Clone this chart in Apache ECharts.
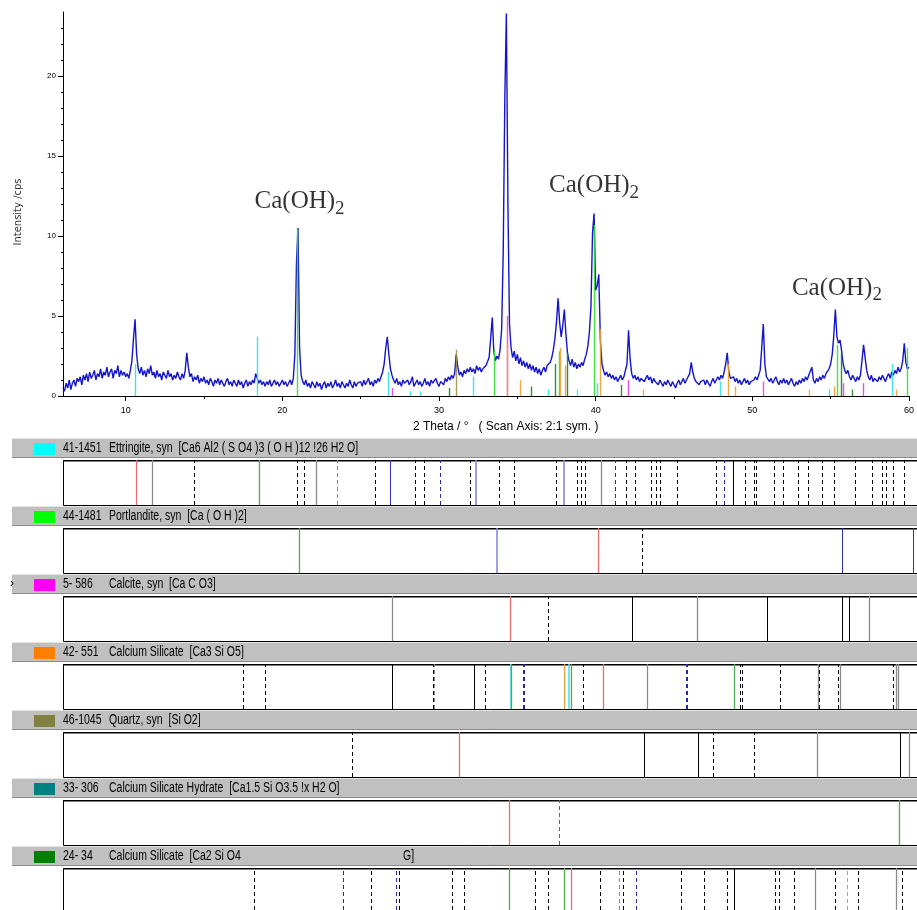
<!DOCTYPE html>
<html><head><meta charset="utf-8">
<script src="https://cdn.jsdelivr.net/npm/echarts@6/dist/echarts.min.js"></script>
<style>html,body{margin:0;padding:0;background:#fff}#c{width:917px;height:910px}</style>
</head><body><div id="c"></div>
<script>
// ---------- DATA ----------
const scanStart = 6.0;
const scanStep = 0.1;
const scanCounts = [
0.5,0.3,0.8,0.5,1.0,0.4,0.8,1.0,0.6,1.1,
0.9,1.2,0.7,1.3,1.0,1.4,0.9,1.5,1.1,1.3,
1.6,1.0,1.4,1.2,1.7,1.1,1.5,1.3,1.8,1.2,
1.5,1.7,1.1,1.6,1.4,1.9,1.2,1.6,1.3,1.5,
1.2,1.4,1.1,1.6,2.2,3.6,4.8,2.6,1.7,1.4,
1.8,1.3,1.6,1.2,1.7,1.4,1.9,1.3,1.5,1.1,
1.6,1.2,1.4,1.0,1.5,1.3,1.1,1.6,1.2,1.4,
1.0,1.3,1.1,1.5,1.2,1.0,1.4,1.1,1.6,2.7,
1.8,1.2,1.4,0.9,1.2,1.0,1.3,0.8,1.1,0.9,
1.2,0.8,1.0,0.7,1.1,0.9,0.6,1.0,0.8,1.1,
0.7,1.0,0.8,0.6,0.9,1.1,0.7,0.9,0.6,1.0,
0.8,0.6,1.0,0.7,0.9,0.5,0.8,1.0,0.6,0.9,
0.7,1.0,0.8,1.4,1.1,0.8,1.0,0.7,0.9,0.6,
0.9,0.7,1.0,0.6,0.8,1.0,0.7,0.9,0.6,0.8,
1.0,0.7,0.9,0.6,0.8,1.0,0.7,1.1,2.6,8.2,
10.5,3.0,1.3,0.9,0.7,1.0,0.6,0.8,0.5,0.9,
0.7,0.5,0.9,0.6,0.8,0.4,0.7,0.9,0.5,0.8,
0.6,0.9,0.5,0.7,1.0,0.6,0.8,0.5,0.9,0.7,
0.5,0.8,0.6,1.0,0.7,0.5,0.9,0.6,0.8,0.7,
0.9,0.6,1.0,0.7,0.8,1.1,0.7,0.9,0.6,1.0,
0.8,1.1,0.9,1.2,1.5,2.0,3.0,3.7,2.6,1.7,
1.3,1.0,0.8,1.1,0.7,0.9,0.6,1.0,0.8,0.7,
1.0,0.7,0.9,1.2,0.6,0.8,1.0,0.7,0.9,0.6,
0.8,1.1,0.7,0.9,0.6,1.0,0.8,0.7,1.1,0.8,
0.6,0.9,1.0,0.7,1.1,0.9,1.2,1.0,1.3,1.1,
1.4,2.6,1.8,1.3,1.5,1.2,1.6,1.4,1.7,1.5,
1.8,1.5,1.7,1.4,1.9,1.6,1.8,1.5,1.7,1.6,
1.9,2.0,2.4,3.6,4.9,2.8,2.2,2.5,2.3,2.9,
4.2,9.0,18.5,23.9,12.0,4.5,3.0,2.4,2.8,2.2,
2.6,2.0,2.4,1.9,2.2,1.8,2.1,1.7,2.0,1.6,
1.9,1.5,1.8,1.4,1.7,1.3,1.6,1.8,1.5,1.9,
1.8,2.1,2.4,2.9,3.6,4.6,6.1,4.6,3.7,4.4,
5.4,3.9,2.7,2.2,1.9,2.3,1.8,2.1,1.7,2.0,
1.8,2.1,1.9,2.3,2.6,3.1,4.0,5.6,10.2,11.4,
6.6,6.9,7.6,3.5,2.0,1.6,1.3,1.5,1.2,1.4,
1.1,1.3,1.0,1.2,0.9,1.1,1.3,1.0,1.2,1.1,
2.0,4.1,2.3,1.4,1.1,1.3,1.0,1.2,0.9,1.1,
1.2,0.9,1.1,1.3,1.0,1.2,0.8,1.1,0.9,1.0,
0.7,1.0,0.8,0.6,0.9,0.7,1.0,0.8,0.6,0.9,
0.7,0.5,0.8,1.0,0.7,0.9,1.1,0.8,1.0,1.2,
1.4,2.1,1.5,1.1,0.9,1.0,0.7,0.9,0.8,1.0,
0.7,1.0,0.8,0.6,0.9,1.1,0.8,1.0,1.2,1.0,
1.3,1.1,1.5,2.0,2.7,1.5,1.1,1.0,1.2,0.9,
1.1,0.8,1.0,0.7,0.9,1.1,0.8,1.0,0.7,0.9,
0.8,1.0,1.2,1.0,1.3,1.6,3.0,4.5,2.0,1.2,
1.3,0.9,1.1,0.8,1.0,1.2,0.9,0.7,1.0,0.8,
1.1,0.8,1.0,0.7,0.9,1.1,0.8,0.6,0.9,0.7,
1.0,0.8,1.1,0.9,1.2,1.0,1.3,1.4,1.8,1.0,
0.8,1.1,0.9,1.2,1.0,1.3,1.1,1.4,1.5,1.7,
2.0,2.6,3.8,5.4,3.7,3.3,3.5,2.8,2.0,1.6,
1.4,1.6,1.2,1.0,1.3,1.1,0.9,1.2,1.0,1.3,
2.2,3.2,2.4,1.6,1.2,1.0,1.3,0.9,1.1,1.2,
0.9,1.2,1.0,1.3,1.1,0.9,1.2,1.4,1.1,1.5,
1.3,1.6,1.4,1.8,1.5,1.7,2.2,3.3,2.1,1.7,
1.8
];

const xTicks = [10, 20, 30, 40, 50, 60];
const xMinorTicks = [15, 25, 35, 45, 55];
const yTicks = [0, 5, 10, 15, 20];
const yMinorTicks = [1,2,3,4,6,7,8,9,11,12,13,14,16,17,18,19,21,22,23];

const annotText = ['Ca(OH)', 'Ca(OH)', 'Ca(OH)'];
const annotX = [21.1, 39.9, 55.4];
const annotY = [12.3, 13.3, 6.9];

// reference-pattern sticks in the main plot: [2theta, height, phase index]
const mainSticks = [
[10.63,2.0,0],[18.43,3.7,0],[20.98,10.4,1],[26.73,1.5,0],[27.0,0.5,2],[28.19,0.3,0],[28.82,0.3,0],
[30.66,0.5,6],[31.10,2.9,4],[32.18,1.2,0],[33.51,2.9,1],[34.33,5.0,2],[34.38,3.3,3],[35.16,1.0,3],
[35.86,0.6,6],[37.0,0.4,0],[37.44,2.0,6],[37.70,2.8,1],[37.76,3.0,3],[38.07,1.9,3],[38.20,2.7,6],
[38.8,0.4,0],[39.91,10.7,1],[40.10,0.8,0],[40.29,4.2,3],[41.62,0.7,6],[42.06,1.0,2],[43.02,0.4,3],
[47.96,0.9,0],[48.47,2.0,3],[48.92,0.6,3],[50.68,0.9,2],[53.66,0.4,3],[54.93,0.4,0],[55.25,0.6,3],
[55.44,3.2,1],[55.69,2.7,6],[55.82,0.8,2],[56.39,0.4,6],[57.08,0.8,2],[58.92,2.0,0],[59.18,0.4,3],
[59.87,3.0,1]
];

const phaseCodes = ['41-1451', '44-1481', '5- 586', '42- 551', '46-1045', '33- 306', '24- 34'];
const phaseNames = [
 'Ettringite, syn  [Ca6 Al2 ( S O4 )3 ( O H )12 !26 H2 O]',
 'Portlandite, syn  [Ca ( O H )2]',
 'Calcite, syn  [Ca C O3]',
 'Calcium Silicate  [Ca3 Si O5]',
 'Quartz, syn  [Si O2]',
 'Calcium Silicate Hydrate  [Ca1.5 Si O3.5 !x H2 O]',
 'Calcium Silicate  [Ca2 Si O4'
];

// stick lines per phase panel: [2theta, line kind]
const phaseLines = [
 [[10.63,'r'],[11.63,'g'],[14.33,'d'],[18.43,'G'],[20.82,'d'],[21.26,'d'],[22.04,'g'],[23.37,'dg'],[25.82,'d'],[26.77,'b'],[28.30,'d'],[28.87,'d'],[29.92,'db'],[31.84,'d'],[32.14,'lb'],[33.62,'d'],[34.63,'d'],[37.25,'d'],[37.76,'lb'],[38.58,'d'],[38.85,'d'],[39.13,'d'],[40.10,'g'],[41.03,'db'],[41.67,'d'],[42.30,'d'],[43.31,'d'],[43.57,'d'],[43.88,'d'],[44.96,'d'],[47.39,'d'],[47.91,'db'],[48.49,'k'],[49.27,'d'],[49.78,'d'],[49.94,'d'],[51.05,'d'],[51.64,'d'],[52.63,'d'],[53.26,'d'],[54.09,'d'],[54.91,'d'],[56.20,'d'],[57.28,'d'],[57.91,'d'],[58.18,'d'],[58.62,'d'],[59.32,'d']],
 [[20.98,'G'],[33.49,'lb'],[39.91,'r'],[42.74,'d'],[55.42,'b'],[59.92,'b']],
 [[26.86,'g'],[34.36,'r'],[36.74,'d'],[42.11,'k'],[46.19,'g'],[50.64,'k'],[55.42,'k'],[55.84,'k'],[57.10,'g']],
 [[17.41,'d'],[18.83,'d'],[26.84,'k'],[29.48,'d'],[29.53,'dg'],[32.07,'k'],[32.79,'d'],[34.36,'c'],[34.44,'G'],[35.17,'db'],[35.25,'db'],[37.74,'o'],[38.07,'c'],[38.20,'G'],[38.96,'d'],[40.27,'r'],[43.04,'g'],[45.48,'db'],[45.56,'db'],[48.53,'G'],[48.93,'d'],[49.03,'d'],[51.46,'d'],[53.85,'g'],[53.96,'d'],[55.16,'d'],[55.27,'g'],[58.61,'d'],[58.80,'g'],[58.97,'g']],
 [[24.34,'d'],[31.10,'r'],[42.81,'k'],[46.29,'k'],[47.24,'d'],[49.82,'d'],[53.81,'g'],[59.09,'k'],[59.62,'g']],
 [[34.31,'r'],[37.46,'dG'],[59.00,'G']],
 [[18.13,'d'],[23.77,'db'],[25.51,'d'],[27.09,'db'],[27.30,'d'],[30.64,'d'],[31.44,'d'],[34.31,'G'],[35.90,'d'],[36.74,'d'],[37.74,'G'],[38.22,'r'],[40.02,'d'],[41.24,'dg'],[41.52,'d'],[42.34,'db'],[45.19,'d'],[46.65,'d'],[48.10,'d'],[48.55,'k'],[51.17,'d'],[51.40,'d'],[52.33,'d'],[53.66,'g'],[54.95,'d'],[55.71,'dc'],[56.41,'d'],[58.80,'g'],[59.19,'d']]
];

// ---------- STYLES ----------
const phaseColors = ['#00ffff', '#00ff00', '#ff00ff', '#ff8000', '#808040', '#008080', '#008000'];
const stickColors = ['#30e0e0', '#30e030', '#e040e0', '#f0a030', '#a09040', '#209090', '#208020'];
const DASH = [4, 3];
const kindStyle = {
  k:  {color:'#000000', width:1, type:'solid'},
  g:  {color:'#8a8a8a', width:1.3, type:'solid'},
  d:  {color:'#000000', width:1, type:DASH},
  dg: {color:'#8a8a8a', width:1, type:DASH},
  db: {color:'#2828a0', width:1, type:DASH},
  dG: {color:'#309030', width:1, type:DASH},
  dc: {color:'#30d0e0', width:1, type:DASH},
  r:  {color:'#e07070', width:1.3, type:'solid'},
  G:  {color:'#50a850', width:1.3, type:'solid'},
  b:  {color:'#3030c0', width:1, type:'solid'},
  lb: {color:'#8888e0', width:1.6, type:'solid'},
  c:  {color:'#50e0e8', width:1.6, type:'solid'},
  o:  {color:'#f0a040', width:1.3, type:'solid'}
};
const sans = "'Liberation Sans',Arial,sans-serif";
const serif = "'Liberation Serif','Times New Roman',serif";
const HEAD_SCALE = 0.75;
const LEFT = 63, RIGHT = 2;
const PANEL_TOP = 460, PANEL_PITCH = 68, PANEL_H = 45;

// ---------- BUILD ----------
const scanData = scanCounts.map((v, i) => [+(scanStart + i * scanStep).toFixed(2), v]);

const grids = [{left: LEFT, right: RIGHT, top: 12, height: 384}];
const xAxes = [
  {gridIndex:0, type:'value', min:6, max:60, position:'bottom',
   axisLine:{lineStyle:{color:'#000', width:1}},
   axisTick:{customValues:xTicks, length:5, lineStyle:{color:'#000'}},
   axisLabel:{customValues:xTicks, fontFamily:sans, fontSize:9, color:'#000', margin:10},
   splitLine:{show:false}},
  {gridIndex:0, type:'value', min:6, max:60, position:'bottom', offset:0,
   axisLine:{show:false},
   axisTick:{customValues:xMinorTicks, length:3, lineStyle:{color:'#000'}},
   axisLabel:{show:false}, splitLine:{show:false}}
];
const yAxes = [
  {gridIndex:0, type:'value', min:0, max:24, position:'left',
   axisLine:{show:true, lineStyle:{color:'#000', width:1}},
   axisTick:{show:true, customValues:yTicks, length:5, lineStyle:{color:'#000'}},
   axisLabel:{customValues:yTicks, fontFamily:sans, fontSize:8, color:'#000', margin:7},
   splitLine:{show:false}},
  {gridIndex:0, type:'value', min:0, max:24, position:'left', offset:0,
   axisLine:{show:false},
   axisTick:{show:true, customValues:yMinorTicks, length:2, lineStyle:{color:'#000'}},
   axisLabel:{show:false}, splitLine:{show:false}}
];

const series = [
  {type:'line', xAxisIndex:0, yAxisIndex:0, data:scanData, showSymbol:false, symbol:'none',
   lineStyle:{color:'#1414cc', width:1.4}, z:3, animation:false, silent:true},
  {type:'line', xAxisIndex:0, yAxisIndex:0, data:[], z:4, silent:true, animation:false,
   markLine:{silent:true, symbol:['none','none'], label:{show:false}, animation:false,
     data: mainSticks.map(([t, h, p]) => [
       {coord:[t, 0], lineStyle:{color:stickColors[p], width:1.4, type:'solid', opacity:0.9}},
       {coord:[t, h]}
     ])}},
  {type:'scatter', xAxisIndex:0, yAxisIndex:0, symbolSize:0, z:5, silent:true, animation:false,
   data: annotX.map((x, i) => ({value:[x, annotY[i]], name:annotText[i]})),
   label:{show:true, position:'inside',
     formatter: p => '{a|' + p.name + '}{b|2}',
     rich:{a:{fontFamily:serif, fontSize:25, color:'#000', lineHeight:30, verticalAlign:'bottom'},
           b:{fontFamily:serif, fontSize:19, color:'#000', lineHeight:24, verticalAlign:'bottom', padding:[0,0,-4,0]}}}}
];

const graphics = [];
// axis titles
graphics.push({type:'text', left:413, top:421, z:10, style:{text:'2 Theta / °   ( Scan Axis: 2:1 sym. )', fontFamily:sans, fontSize:12, fill:'#000'}});
graphics.push({type:'text', x:18, y:212, rotation:Math.PI/2, z:10,
  style:{text:'Intensity /cps', fontFamily:"'DejaVu Sans',sans-serif", fontSize:10, fill:'#333', align:'center', verticalAlign:'middle'}});

phaseLines.forEach((lines, i) => {
  const gi = i + 1;
  const top = PANEL_TOP + i * PANEL_PITCH;
  grids.push({left: LEFT, right: RIGHT, top: top, height: PANEL_H});
  xAxes.push({gridIndex:gi, type:'value', min:6, max:60, show:false});
  yAxes.push({gridIndex:gi, type:'value', min:0, max:1, show:false});
  series.push({type:'line', xAxisIndex:gi + 1, yAxisIndex:gi + 1, data:[[6,0]], showSymbol:false, symbol:'none',
    lineStyle:{opacity:0}, silent:true, animation:false, z:3,
    markLine:{silent:true, symbol:['none','none'], label:{show:false}, animation:false,
      data: lines.map(([t, k]) => ({xAxis:t, lineStyle:Object.assign({}, kindStyle[k])}))}});

  const hTop = top - 22;
  // header bar
  graphics.push({type:'rect', z:1, shape:{x:12, y:hTop, width:910, height:20}, style:{fill:'#c0c0c0'}});
  graphics.push({type:'line', z:2, shape:{x1:12, y1:hTop + 0.5, x2:917, y2:hTop + 0.5}, style:{stroke:'#e4e4e4', lineWidth:1}});
  graphics.push({type:'line', z:2, shape:{x1:12, y1:hTop + 19.5, x2:917, y2:hTop + 19.5}, style:{stroke:'#8c8c8c', lineWidth:1}});
  graphics.push({type:'rect', z:3, shape:{x:34, y:hTop + 5, width:21, height:12}, style:{fill:phaseColors[i]}});
  graphics.push({type:'text', z:3, x:63, y:hTop + 10, scaleX:HEAD_SCALE, style:{text:phaseCodes[i], fontFamily:sans, fontSize:14, fill:'#000', verticalAlign:'middle'}});
  graphics.push({type:'text', z:3, x:109, y:hTop + 10, scaleX:HEAD_SCALE, style:{text:phaseNames[i], fontFamily:sans, fontSize:14, fill:'#000', verticalAlign:'middle'}});
  // panel box
  graphics.push({type:'rect', z:0, shape:{x:63.5, y:top + 0.5, width:900, height:PANEL_H}, style:{fill:'#fff', stroke:'#000', lineWidth:1}});
  graphics.push({type:'line', z:0, shape:{x1:63, y1:top + 1, x2:917, y2:top + 1}, style:{stroke:'#000', lineWidth:1}});
});
// extra header fragments
graphics.push({type:'text', z:3, x:403, y:PANEL_TOP + 6 * PANEL_PITCH - 12, scaleX:HEAD_SCALE, style:{text:'G]', fontFamily:sans, fontSize:14, fill:'#000', verticalAlign:'middle'}});
graphics.push({type:'text', z:3, x:10, y:PANEL_TOP + 2 * PANEL_PITCH - 12, style:{text:'›', fontFamily:sans, fontSize:12, fill:'#000', verticalAlign:'middle'}});

const chart = echarts.init(document.getElementById('c'), null, {renderer:'canvas'});
chart.setOption({
  backgroundColor:'#ffffff',
  animation:false,
  grid: grids,
  xAxis: xAxes,
  yAxis: yAxes,
  series: series,
  graphic: graphics
});
</script>
</body></html>
